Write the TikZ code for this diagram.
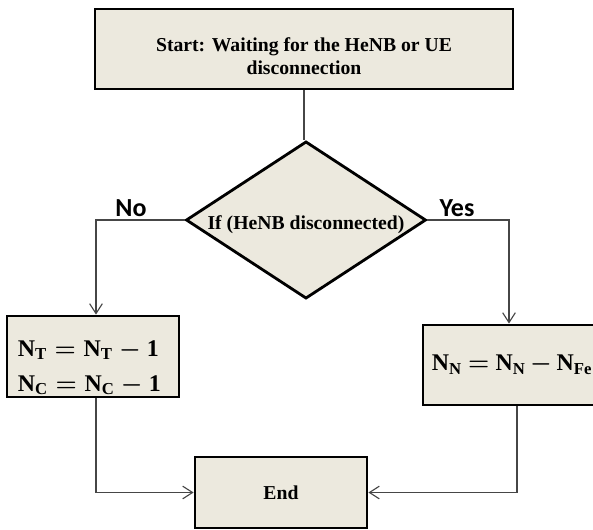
\documentclass[tikz,border=0pt]{standalone}
\usepackage{fontspec}
\setmainfont{Liberation Serif}
\setmathrm{Liberation Serif}
\setboldmathrm{Liberation Serif}
\newfontfamily\answerfont{Carlito}
\usetikzlibrary{shapes.geometric,arrows.meta}
\definecolor{boxfill}{RGB}{236,233,222}
\definecolor{linegray}{RGB}{70,70,70}
\tikzset{
  procbox/.style={draw=black, line width=2pt, fill=boxfill, inner sep=0pt,
    align=center, font=\fontsize{14}{17}\selectfont\bfseries},
  decision/.style={diamond, draw=black, line width=2pt, fill=boxfill, inner sep=0pt,
    aspect=1.53, font=\fontsize{14}{17}\selectfont\bfseries},
  mathbox/.style={procbox, align=left, inner xsep=0.27cm, font=\fontsize{17}{25}\selectfont\boldmath},
  answer/.style={font=\answerfont\fontsize{18.5}{20}\selectfont\bfseries},
  flowline/.style={draw=linegray, line width=0.8pt},
  flowarrow/.style={flowline, -{Straight Barb[length=7pt,width=9pt]}}
}
\begin{document}
\begin{tikzpicture}[x=0.025cm, y=-0.025cm]
  \useasboundingbox (0,0) rectangle (593,529);
  \clip (0,0) rectangle (593,529);

  % Drawing start box
  \node [procbox, minimum width=10.45cm, minimum height=2cm] (start) at (304,49)
    {\rule{0pt}{20pt}Start: Waiting for the HeNB or UE\\disconnection};

  % Drawing decision diamond
  \node [decision, minimum width=6cm, minimum height=3.93cm] (dec) at (306,220)
    {\rule{0pt}{16pt}If (HeNB disconnected)};

  % Marking the two answers
  \node [answer] (nolabel) at (131,208) {No};
  \node [answer] (yeslabel) at (457,208) {Yes};

  % Drawing the two update boxes
  \node [mathbox, text width=3.76cm, minimum height=2.025cm] (left) at (93,356.5)
    {\rule{0pt}{27pt}$\mathbf{N}_{\mathbf{T}} = \mathbf{N}_{\mathbf{T}} - \mathbf{1}$\\
     $\mathbf{N}_{\mathbf{C}} = \mathbf{N}_{\mathbf{C}} - \mathbf{1}$};
  \node [mathbox, text width=3.86cm, inner xsep=0.22cm, minimum height=2cm] (right) at (509,365)
    {\mbox{\thickmuskip=4mu \medmuskip=3mu
     $\mathbf{N}_{\mathbf{N}} = \mathbf{N}_{\mathbf{N}} - \mathbf{N}_{\mathbf{Fe}}$}};

  % Drawing end box
  \node [procbox, minimum width=4.3cm, minimum height=1.775cm] (end) at (281,492.5) {End};

  % Drawing connectors
  \draw [flowline] (start.south) -- (start.south |- dec.north);
  \draw [flowarrow] (dec.west) -| ([xshift=0.075cm]left.north);
  \draw [flowarrow] (dec.east) -| (right.north);
  \draw [flowarrow] ([xshift=0.075cm]left.south) |- (end.west);
  \draw [flowarrow] ([xshift=0.2cm]right.south) |- (end.east);
\end{tikzpicture}
\end{document}
